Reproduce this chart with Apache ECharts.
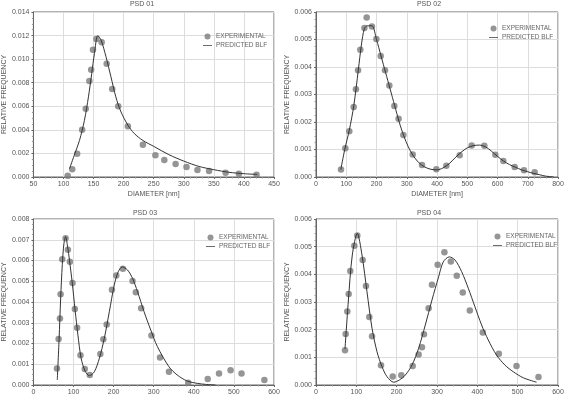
<!DOCTYPE html>
<html>
<head>
<meta charset="utf-8">
<script src="https://cdn.jsdelivr.net/npm/echarts@6/dist/echarts.min.js"></script>
<style>
  html, body { margin: 0; padding: 0; background: #fff; }
  #chart { width: 568px; height: 400px; }
</style>
</head>
<body>
<div id="chart"></div>
<script>
// PSD 01
const psd1Exp = [[107,0.0001],[114.5,0.00065],[122.7,0.00198],[131,0.0040],[137,0.0058],[143,0.00815],[146,0.0091],[149,0.0108],[154.7,0.0117],[163.5,0.01143],[171.8,0.0096],[181,0.00747],[191,0.0060],[207,0.0043],[232,0.00274],[252.8,0.00184],[267.6,0.00144],[286.4,0.0011],[304.5,0.00085],[322.7,0.0006],[342,0.00051],[369.5,0.00037],[391.6,0.00028],[421,0.0002]]
const psd1Fit = [[110,0.0007],[119,0.002],[126.6,0.0031],[134.8,0.0048],[141.5,0.0068],[147,0.0088],[151.5,0.0105],[157,0.0120],[162.4,0.01163],[170.7,0.0102],[178.9,0.0085],[187,0.0068],[195,0.0056],[207,0.0044],[217.5,0.0037],[232,0.0031],[250,0.0026],[275,0.0019],[300,0.00135],[325,0.0009],[350,0.00062],[375,0.0004],[400,0.00028],[422,0.00022]]

// PSD 02
const psd2Exp = [[82.6,0.00027],[97,0.00105],[110,0.00166],[124.5,0.00255],[132,0.00319],[139,0.00388],[146.5,0.00463],[160,0.00542],[167.5,0.0058],[185,0.00547],[199.5,0.00502],[213.8,0.0044],[228,0.00388],[242.4,0.00333],[259,0.00258],[273,0.00212],[288.7,0.00153],[319.6,0.00082],[350.4,0.00044],[397.8,0.00028],[430.9,0.00041],[475,0.00079],[514.6,0.00115],[556.5,0.00114],[592.8,0.00081],[619.3,0.00058],[656.7,0.00036],[687.6,0.00025],[722.9,0.00017]]
const psd2Fit = [[82,0.00027],[95,0.001],[110,0.0017],[125,0.0026],[140,0.0039],[150,0.0048],[160,0.0054],[170,0.0055],[185,0.0055],[200,0.0050],[215,0.0044],[230,0.0038],[245,0.0032],[260,0.0026],[275,0.002],[290,0.0015],[305,0.0011],[320,0.0008],[340,0.00052],[360,0.00036],[380,0.00028],[400,0.00026],[420,0.00033],[440,0.00048],[460,0.0007],[480,0.0009],[500,0.00106],[520,0.00114],[540,0.00116],[560,0.0011],[580,0.00094],[600,0.00075],[620,0.00058],[640,0.00045],[660,0.00035],[680,0.00026],[700,0.00019],[720,0.00013],[740,0.00008],[760,0.00003],[785,0.00001]]

// PSD 03
const psd3Exp = [[58.7,0.0008],[62.8,0.00222],[66.1,0.0032],[67.8,0.00437],[71.9,0.00606],[80.2,0.00707],[86,0.00652],[90.9,0.00594],[97.5,0.00492],[103.3,0.00366],[109,0.00276],[117.4,0.00143],[128.1,0.00077],[140.5,0.00048],[166.9,0.00149],[174.4,0.0022],[182.7,0.00292],[195.9,0.00459],[206.6,0.00528],[223.2,0.0056],[247.2,0.00501],[255.4,0.00447],[268.7,0.0037],[294.3,0.00238],[315.7,0.00133],[338,0.00064],[386,0.00011],[434.7,0.00029],[462.9,0.00056],[491.7,0.00071],[519,0.00055],[576,0.00024]]
const psd3Fit = [[59.5,0.00024],[64,0.0022],[68,0.0042],[72,0.0058],[76,0.0068],[80.2,0.00715],[85,0.0067],[90,0.0060],[97,0.0049],[104,0.0036],[111,0.0024],[119,0.00129],[129,0.00067],[139.7,0.00045],[152,0.00064],[164.5,0.00129],[176.8,0.00225],[189.3,0.00353],[201.6,0.00482],[211.6,0.00546],[221.5,0.00569],[234.8,0.00554],[247.2,0.00514],[259.6,0.0045],[276,0.00353],[292.6,0.00265],[309.2,0.00185],[338,0.00088],[358.8,0.00048],[383.6,0.00019],[408.4,0.00008],[429,0.00003],[454,0.0]]

// PSD 04
const psd4Exp = [[71.9,0.00126],[73.6,0.00184],[77.6,0.00266],[81,0.00329],[85,0.00412],[95,0.00503],[102.4,0.0054],[115.7,0.00452],[124,0.00358],[132.2,0.00246],[138.9,0.00176],[161.2,0.00071],[190.1,0.00031],[211.5,0.00035],[239.7,0.00069],[254.5,0.0011],[262.7,0.00136],[267.7,0.00183],[279.3,0.00277],[287.5,0.00362],[301.6,0.00435],[318.4,0.0048],[334.2,0.00446],[349,0.00395],[363.9,0.00334],[381.3,0.00269],[413.6,0.0019],[453.3,0.00113],[497.1,0.00069],[551.6,0.00029]]
const psd4Fit = [[71.9,0.0013],[80,0.0030],[90,0.0047],[102.4,0.00548],[114,0.0047],[126.4,0.00337],[138.9,0.00205],[151.3,0.0012],[163.7,0.00066],[176.1,0.0003],[192.7,0.0001],[206.6,0.00018],[221.5,0.00036],[238,0.00072],[254.5,0.00133],[271,0.00217],[287.5,0.00307],[304,0.00391],[315.5,0.00445],[330.4,0.00463],[344.5,0.00452],[361,0.0041],[377.5,0.0035],[394,0.00283],[410.5,0.00217],[427,0.00163],[447.7,0.00108],[468.4,0.00072],[489,0.00048],[514,0.00026],[547,0.0001]]

const titles = ['PSD 01', 'PSD 02', 'PSD 03', 'PSD 04']
const xRanges = [[50, 450, 50], [0, 800, 100], [0, 600, 100], [0, 600, 100]]
const yRanges = [[0, 0.014, 0.002], [0, 0.006, 0.001], [0, 0.008, 0.001], [0, 0.006, 0.001]]

const grids = [
  { left: 32, top: 12, width: 242, height: 165 },
  { left: 316, top: 12, width: 242, height: 165 },
  { left: 32, top: 219, width: 242, height: 166 },
  { left: 316, top: 219, width: 242, height: 166 }
]
const expSets = [psd1Exp, psd2Exp, psd3Exp, psd4Exp]
const fitSets = [psd1Fit, psd2Fit, psd3Fit, psd4Fit]

const font = 'Liberation Sans, Arial, sans-serif'
const labelColor = '#555'

const option = {
  animation: false,
  backgroundColor: '#fff',
  title: titles.map((t, i) => ({
    text: t,
    left: [137, 424, 140, 424][i],
    top: [-4, -4, 205, 205][i],
    textAlign: 'center',
    textStyle: { fontSize: 7, fontWeight: 'normal', color: labelColor, fontFamily: font }
  })),
  legend: grids.map((g, i) => ({
    orient: 'vertical',
    left: [198, 484, 201, 488][i],
    top: [28, 20, 229, 228][i],
    itemWidth: 9,
    itemHeight: 6,
    itemGap: 2,
    textStyle: { fontSize: 6.5, color: '#666', fontFamily: font, padding: [0, 0, 0, -1] },
    data: [
      { name: 'EXPERIMENTAL', icon: 'circle', itemStyle: { color: '#7a7a7a' } },
      { name: 'PREDICTED BLF', icon: 'path://M0,4.6 L10,4.6 L10,5.4 L0,5.4 Z', itemStyle: { color: '#333' } }
    ]
  })),
  grid: grids.map(g => Object.assign({ show: true, borderColor: '#666', borderWidth: 1, backgroundColor: '#fff' }, g)),
  xAxis: xRanges.map((r, i) => ({
    type: 'value',
    gridIndex: i,
    min: r[0],
    max: r[1],
    interval: r[2],
    name: i < 2 ? 'DIAMETER [nm]' : '',
    nameLocation: 'middle',
    nameGap: 14,
    nameTextStyle: { fontSize: 7, color: labelColor, fontFamily: font },
    axisLine: { show: true, lineStyle: { color: '#666' } },
    axisTick: { show: true, length: 2, lineStyle: { color: '#666' } },
    minorTick: { show: true, splitNumber: 5, length: 1.5, lineStyle: { color: '#999' } },
    axisLabel: { fontSize: 7, color: labelColor, fontFamily: font, margin: 4 },
    splitLine: { show: true, lineStyle: { color: '#ddd', width: 1 } }
  })),
  yAxis: yRanges.map((r, i) => ({
    type: 'value',
    gridIndex: i,
    min: r[0],
    max: r[1],
    interval: r[2],
    name: 'RELATIVE FREQUENCY',
    nameLocation: 'middle',
    nameGap: 23,
    nameTextStyle: { fontSize: 7, color: labelColor, fontFamily: font },
    axisLine: { show: true, lineStyle: { color: '#666' } },
    axisTick: { show: true, length: 2, lineStyle: { color: '#666' } },
    minorTick: { show: true, splitNumber: 4, length: 1.5, lineStyle: { color: '#999' } },
    axisLabel: { fontSize: 7, color: labelColor, fontFamily: font, margin: 4, formatter: v => v.toFixed(3) },
    splitLine: { show: true, lineStyle: { color: '#ddd', width: 1 } }
  })),
  series: []
}

expSets.forEach((d, i) => {
  option.series.push({
    name: 'EXPERIMENTAL',
    type: 'scatter',
    xAxisIndex: i,
    yAxisIndex: i,
    data: d,
    symbol: 'circle',
    symbolSize: 6.5,
    itemStyle: { color: '#7a7a7a' },
    z: 3
  })
  option.series.push({
    name: 'PREDICTED BLF',
    type: 'line',
    xAxisIndex: i,
    yAxisIndex: i,
    data: fitSets[i],
    smooth: 0.3,
    showSymbol: false,
    lineStyle: { color: '#333', width: 1 },
    itemStyle: { color: '#333' },
    z: 4
  })
})

const chart = echarts.init(document.getElementById('chart'))
chart.setOption(option)
</script>
</body>
</html>
